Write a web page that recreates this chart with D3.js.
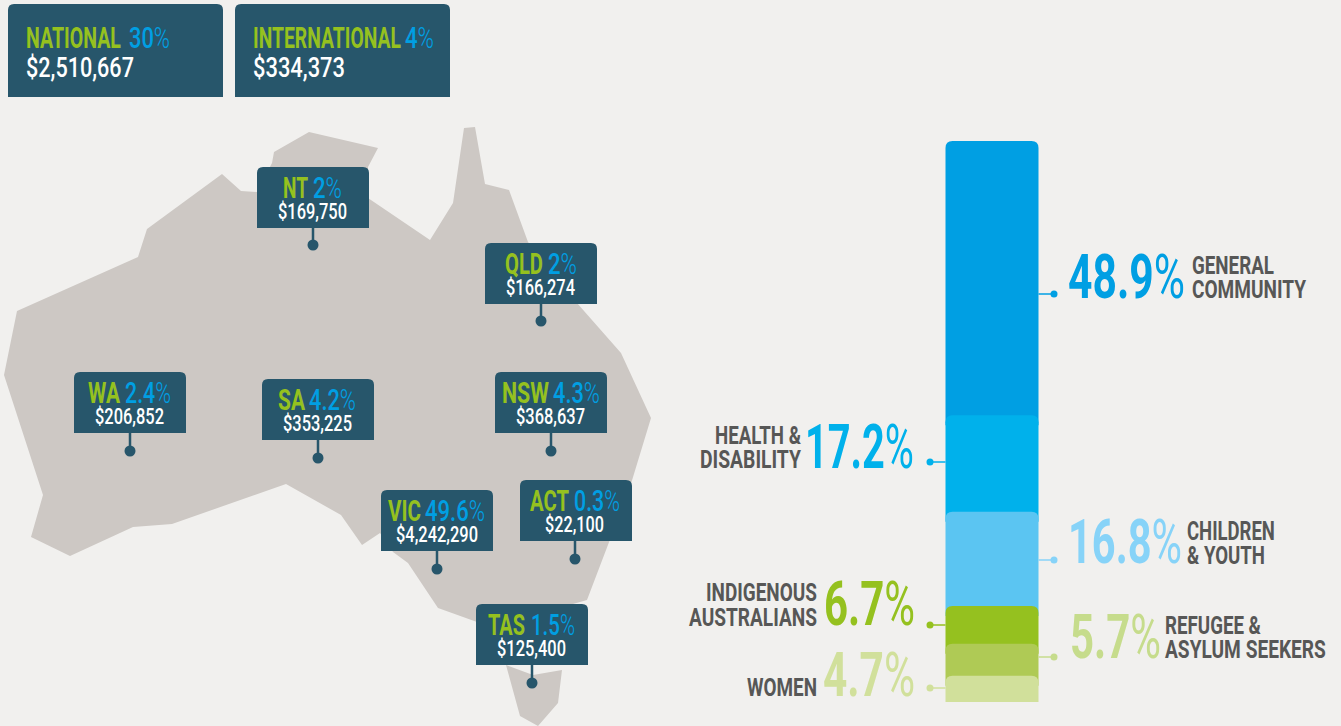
<!DOCTYPE html>
<html>
<head>
<meta charset="utf-8">
<title>Funding by region and cause</title>
<script src="https://cdn.jsdelivr.net/npm/d3@7"></script>
<style>
  html, body { margin: 0; padding: 0; background: #f1f0ee; overflow: hidden; }
  svg { display: block; }
  text { font-family: "Roboto", "Liberation Sans", sans-serif; }
</style>
</head>
<body>
<svg id="viz" width="1341" height="726"></svg>
<script>
// Headline boxes
const scopeNames = ["NATIONAL", "INTERNATIONAL"];
const scopePercents = ["30", "4"];
const scopeAmounts = [2510667, 334373];

// State boxes
const stateNames = ["NT", "QLD", "WA", "SA", "NSW", "ACT", "VIC", "TAS"];
const statePercents = ["2", "2", "2.4", "4.2", "4.3", "0.3", "49.6", "1.5"];
const stateAmounts = [169750, 166274, 206852, 353225, 368637, 22100, 4242290, 125400];

// Stacked bar, top to bottom
const causeNames = ["General community", "Health & disability", "Children & youth",
  "Indigenous Australians", "Refugee & asylum seekers", "Women"];
const causeValues = [48.9, 17.2, 16.8, 6.7, 5.7, 4.7];
const causeLabelLines = [["GENERAL", "COMMUNITY"], ["HEALTH &", "DISABILITY"], ["CHILDREN", "& YOUTH"],
  ["INDIGENOUS", "AUSTRALIANS"], ["REFUGEE &", "ASYLUM SEEKERS"], ["WOMEN"]];

// Map outline
const mainlandOutline = [[4,375],[17,311],[138,257],[147,229],[222,174],[241,191],[257,192],[272,163],[274,152],
  [309,132],[378,148],[368,167],[368,198],[430,240],[453,203],[464,128],[475,127],[485,184],[509,190],[528,242],
  [577,303],[621,353],[651,418],[630,487],[587,600],[573,604],[477,622],[438,608],[408,563],[393,552],[380,533],
  [362,545],[341,515],[286,484],[172,524],[133,527],[70,556],[31,537],[43,495]];
const tasmaniaOutline = [[506,665],[533,675],[562,670],[558,703],[538,726],[520,716]];

// --- layout ---
const colors = { box: "#27566b", green: "#95c11f", blue: "#009fe3", grey: "#575756", land: "#cdc8c4" };
const scopeLayout = [
  { x: 8, name: [26, 121], pct: [129, 170], amount: [26, 134] },
  { x: 235, name: [253, 401], pct: [405, 434], amount: [253, 345] }
];
const stateLayout = [
  { x: 257, y: 167, dot: [313, 245], name: [283, 308], pct: [313, 342], amount: [278, 347] },
  { x: 485, y: 243, dot: [541, 321], name: [505, 543], pct: [548, 577], amount: [506, 575] },
  { x: 74, y: 372, dot: [130, 451], name: [88, 120], pct: [125, 171], amount: [95, 164] },
  { x: 262, y: 379, dot: [318, 458], name: [278, 305], pct: [309, 356], amount: [283, 352] },
  { x: 495, y: 372, dot: [551, 451], name: [502, 549], pct: [553, 600], amount: [516, 585] },
  { x: 520, y: 480, dot: [575, 559], name: [530, 569], pct: [574, 620], amount: [545, 604] },
  { x: 381, y: 490, dot: [437, 569], name: [388, 421], pct: [425, 485], amount: [396, 478] },
  { x: 476, y: 604, dot: [532, 683], name: [488, 525], pct: [531, 575], amount: [497, 566] }
];
const causeStyle = [
  { fill: "#009fe3", text: "#009fe3", side: 1, dotY: 294, big: [1068, 1185], bigY: 298, lines: [[1192, 1274, 274], [1192, 1306, 298]] },
  { fill: "#00b1eb", text: "#00b1eb", side: -1, dotY: 462, big: [805, 914], bigY: 468, lines: [[715, 801, 444], [700, 801, 468]] },
  { fill: "#5bc5f2", text: "#87d3f8", side: 1, dotY: 560, big: [1068, 1182], bigY: 563, lines: [[1187, 1275, 540], [1187, 1265, 564]] },
  { fill: "#95c11f", text: "#95c11f", side: -1, dotY: 625, big: [824, 915], bigY: 625, lines: [[706, 817, 601], [689, 817, 626]] },
  { fill: "#afca55", text: "#c6dc8c", side: 1, dotY: 657, big: [1070, 1161], bigY: 658, lines: [[1165, 1261, 634], [1165, 1326, 658]] },
  { fill: "#d1e09b", text: "#d1e09b", side: -1, dotY: 688, big: [823, 915], bigY: 696, lines: [[747, 817, 696]] }
];

const svg = d3.select("#viz");
const money = d3.format("$,");

// squeeze a text into the extent [x0, x1] with a horizontal scale
function fitInto(t, extent, baseline) {
  const natural = t.node().getComputedTextLength();
  t.attr("transform", `translate(${extent[0]},${baseline}) scale(${(extent[1] - extent[0]) / natural},1)`);
  return t;
}

function fitText(parent, str, extent, baseline, size, fill, weight) {
  const t = parent.append("text")
    .attr("font-size", size)
    .attr("font-weight", weight || 400)
    .attr("fill", fill)
    .text(str);
  return fitInto(t, extent, baseline);
}

// digits heavier than the thin percent sign
function fitPercent(parent, value, extent, baseline, size, fill, weight, signWeight) {
  const t = parent.append("text").attr("font-size", size).attr("fill", fill);
  t.append("tspan").attr("font-weight", weight).text(value);
  t.append("tspan").attr("font-weight", signWeight).text("%");
  return fitInto(t, extent, baseline);
}

// rect with only the top corners rounded
function topRounded(x, y, w, h, r) {
  const p = d3.path();
  p.moveTo(x, y + h);
  p.lineTo(x, y + r);
  p.quadraticCurveTo(x, y, x + r, y);
  p.lineTo(x + w - r, y);
  p.quadraticCurveTo(x + w, y, x + w, y + r);
  p.lineTo(x + w, y + h);
  p.closePath();
  return p.toString();
}

drawMap();
drawScopes();
drawStates();
drawBar();

function drawMap() {
  const x = d3.scaleIdentity();
  const y = d3.scaleIdentity();
  const outline = d3.line().x(d => x(d[0])).y(d => y(d[1])).curve(d3.curveLinearClosed);
  svg.selectAll(".land")
    .data([mainlandOutline, tasmaniaOutline])
    .join("path")
    .attr("class", "land")
    .attr("fill", colors.land)
    .attr("d", outline);
}

function drawScopes() {
  scopeNames.forEach((name, i) => {
    const l = scopeLayout[i];
    const g = svg.append("g");
    g.append("path").attr("fill", colors.box).attr("d", topRounded(l.x, 4, 215, 93, 6));
    fitText(g, name, l.name, 48, 29.5, colors.green, 700);
    fitPercent(g, scopePercents[i], l.pct, 48, 29.5, colors.blue, 500, 300);
    fitText(g, money(scopeAmounts[i]), l.amount, 77, 28.5, "#fff", 500);
  });
}

function drawStates() {
  stateNames.forEach((name, i) => {
    const l = stateLayout[i];
    const g = svg.append("g");
    g.append("line")
      .attr("x1", l.dot[0]).attr("x2", l.dot[0])
      .attr("y1", l.y + 60).attr("y2", l.dot[1])
      .attr("stroke", colors.box).attr("stroke-width", 2.5);
    g.append("circle")
      .attr("cx", l.dot[0]).attr("cy", l.dot[1]).attr("r", 5.5)
      .attr("fill", colors.box);
    g.append("path").attr("fill", colors.box).attr("d", topRounded(l.x, l.y, 112, 61, 6));
    fitText(g, name, l.name, l.y + 31, 29.5, colors.green, 700);
    fitPercent(g, statePercents[i], l.pct, l.y + 31, 29.5, colors.blue, 500, 300);
    fitText(g, money(stateAmounts[i]), l.amount, l.y + 52, 22.5, "#fff", 500);
  });
}

function drawBar() {
  const row = {};
  causeNames.forEach((c, i) => { row[c] = causeValues[i]; });
  // bottom of the column is the last cause, so stack in reverse
  const series = d3.stack().keys(causeNames.slice().reverse())([row]).reverse();

  const x = d3.scaleBand().domain(["causes"]).range([945.5, 1038.5]);
  const y = d3.scaleLinear().domain([0, d3.sum(causeValues)]).range([702, 141]);

  // each block runs under the next one down, whose rounded top overlaps it
  svg.selectAll(".cause")
    .data(series)
    .join("path")
    .attr("class", "cause")
    .attr("fill", (d, i) => causeStyle[i].fill)
    .attr("d", (d, i) => {
      const top = y(d[0][1]);
      const bottom = i === series.length - 1 ? y(d[0][0]) : y(d[0][0]) + 10;
      return topRounded(x("causes"), top, x.bandwidth(), bottom - top, 7);
    });

  causeNames.forEach((c, i) => {
    const s = causeStyle[i];
    const edge = s.side > 0 ? x("causes") + x.bandwidth() : x("causes");
    const dotX = edge + s.side * 15.5;
    svg.append("line")
      .attr("x1", edge).attr("x2", dotX)
      .attr("y1", s.dotY).attr("y2", s.dotY)
      .attr("stroke", s.text).attr("stroke-width", 1.5);
    svg.append("circle")
      .attr("cx", dotX).attr("cy", s.dotY).attr("r", 3.5)
      .attr("fill", s.text);
    fitPercent(svg, String(causeValues[i]), s.big, s.bigY, 60.5, s.text, 700, 400);
    causeLabelLines[i].forEach((line, j) => {
      const [x0, x1, base] = s.lines[j];
      fitText(svg, line, [x0, x1], base, 25.5, colors.grey, 700);
    });
  });
}
</script>
</body>
</html>
